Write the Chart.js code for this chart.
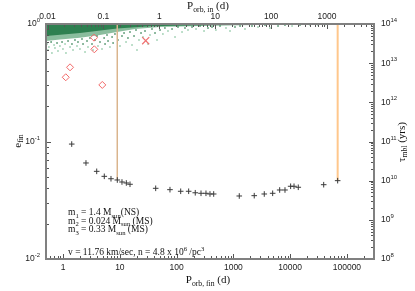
<!DOCTYPE html>
<html>
<head>
<meta charset="utf-8">
<script src="https://cdn.jsdelivr.net/npm/chart.js@4/dist/chart.umd.min.js"></script>
<style>
  html, body { margin:0; padding:0; background:#fff; }
  canvas { display:block; }
</style>
</head>
<body>
<canvas id="chart" width="415" height="291"></canvas>
<script>
// final orbital period (d) vs merger time (yrs) -- plus markers
const porbFin = [1.42, 2.53, 3.91, 5.32, 6.98, 9.02, 10.9, 13.0, 15.1, 42.8, 76.4, 118, 163, 213, 269, 329, 387, 450,
  1270, 2330, 3500, 4920, 6540, 8110, 10200, 11700, 13900, 39000, 68700];
const tauMbl = [8.6e10, 2.83e10, 1.73e10, 1.29e10, 1.12e10, 1.04e10, 9.25e9, 8.73e9, 8.09e9, 6.38e9, 5.89e9, 5.36e9, 5.36e9, 4.91e9,
  4.76e9, 4.76e9, 4.57e9, 4.57e9, 4.06e9, 4.14e9, 4.57e9, 4.76e9, 5.78e9, 5.78e9, 7.19e9, 7.19e9, 6.78e9, 7.89e9, 1.0e10];

// vertical marker lines (Porb_fin, from tau top down to tau end)
const markFin = [9.02, 68700];
const markTauTop = [1e14, 1e14];
const markTauEnd = [1.04e10, 1.0e10];

// dense green cloud, lower edges (Porb_in, e); cloud reaches e = 1
const coreIn = [0.0094, 0.0381, 0.175, 0.682, 5.35, 42, 329];
const coreE = [0.79, 0.84, 0.915, 0.955, 0.978, 0.988, 0.994];
const outerIn = [0.0094, 0.0167, 0.0381, 0.0869, 0.175, 0.367, 1.03, 5.35, 27.8, 218, 1130];
const outerE = [0.715, 0.737, 0.765, 0.806, 0.855, 0.907, 0.943, 0.961, 0.975, 0.988, 0.994];

// scattered green points (Porb_in, e)
const darkIn = [0.0116, 0.0148, 0.0182, 0.0233, 0.0274, 0.031, 0.0351, 0.0414, 0.0432, 0.0509, 0.0575, 0.0625, 0.0708, 0.0769,
  0.0869, 0.103, 0.107, 0.116, 0.121, 0.143, 0.149, 0.161, 0.182, 0.215, 0.234, 0.275, 0.299, 0.353, 0.383, 0.471, 0.555,
  0.740, 0.838, 1.03, 1.26, 1.69, 2.16, 2.88, 3.85, 5.35, 7.43, 8.77, 12.2, 22.6, 27.8, 45.5, 77.8, 133, 177, 329];
const darkE = [0.703, 0.689, 0.703, 0.717, 0.676, 0.731, 0.703, 0.745, 0.676, 0.717, 0.760, 0.676, 0.731, 0.790,
  0.703, 0.760, 0.676, 0.806, 0.717, 0.775, 0.689, 0.822, 0.731, 0.790, 0.838, 0.760, 0.855, 0.790, 0.889, 0.838, 0.872,
  0.907, 0.838, 0.889, 0.925, 0.907, 0.943, 0.925, 0.943, 0.961, 0.925, 0.943, 0.961, 0.943, 0.961, 0.961, 0.980, 0.961, 0.980, 0.980];
const lightIn = [0.0098, 0.0102, 0.0106, 0.0120, 0.0131, 0.0136, 0.0154, 0.0167, 0.0189, 0.0206, 0.0214, 0.0253, 0.0286, 0.0337,
  0.0381, 0.0469, 0.053, 0.0652, 0.080, 0.0944, 0.131, 0.198, 0.254, 0.325, 0.399, 0.433, 0.511, 0.628, 0.682, 0.910,
  1.16, 1.43, 1.91, 2.55, 3.26, 4.54, 6.31, 10.3, 15.6, 18.4, 34.1, 58.3, 95.5, 237, 497, 690, 920];
const lightE = [0.676, 0.601, 0.637, 0.567, 0.663, 0.625, 0.589, 0.650, 0.613, 0.676, 0.567, 0.637, 0.601, 0.650,
  0.613, 0.578, 0.637, 0.601, 0.650, 0.613, 0.637, 0.650, 0.703, 0.663, 0.601, 0.731, 0.775, 0.676, 0.806, 0.731,
  0.822, 0.872, 0.775, 0.855, 0.889, 0.907, 0.872, 0.889, 0.925, 0.872, 0.907, 0.943, 0.925, 0.961, 0.980, 0.980, 0.990];

// red diamonds and cross (Porb_in, e)
const diamondIn = [0.0679, 0.0688, 0.0253, 0.0212, 0.0955];
const diamondE = [0.765, 0.609, 0.428, 0.352, 0.303];
const crossIn = [0.571];
const crossE = [0.721];

// axes
const bottomTicks = [1, 10, 100, 1000, 10000, 100000];
const bottomLabels = ['1', '10', '100', '1000', '10000', '100000'];
const topTicks = [0.01, 0.1, 1, 10, 100, 1000];
const topLabels = ['0.01', '0.1', '1', '10', '100', '1000'];
const leftTicks = [1, 0.1, 0.01];
const leftExp = ['0', '-1', '-2'];
const rightTicks = [1e8, 1e9, 1e10, 1e11, 1e12, 1e13, 1e14];
const rightExp = ['8', '9', '10', '11', '12', '13', '14'];

const SERIF = '"Liberation Serif", "Times New Roman", serif';
const SANS = '"Liberation Sans", Arial, sans-serif';

const pts = (xs, ys) => xs.map((x, i) => ({x, y: ys[i]}));

function rich(ctx, segs, x, y, size, family, align){
  let w = 0;
  const parts = segs.map(s => {
    const fs = (s.sub || s.sup) ? size * 0.7 : size;
    ctx.font = `${fs}px ${family}`;
    const pw = ctx.measureText(s.t).width;
    w += pw;
    return {s, fs, pw};
  });
  let cx = align === 'center' ? x - w / 2 : align === 'right' ? x - w : x;
  ctx.textAlign = 'left';
  for (const p of parts) {
    ctx.font = `${p.fs}px ${family}`;
    const dy = p.s.sub ? size * 0.3 : p.s.sup ? -size * 0.42 : 0;
    ctx.fillText(p.s.t, cx, y + dy);
    cx += p.pw;
  }
}

function logTicks(min, max){
  const out = [];
  for (let e = Math.floor(Math.log10(min)); e <= Math.ceil(Math.log10(max)); e++) {
    for (let m = 1; m <= 9; m++) {
      const v = m * Math.pow(10, e);
      if (v >= min * 0.999 && v <= max * 1.001) out.push({v, major: m === 1});
    }
  }
  return out;
}

const decor = {
  id: 'decor',
  afterDatasetsDraw(chart){
    const {ctx, chartArea: a, scales} = chart;
    ctx.save();
    // inward ticks
    ctx.strokeStyle = '#555';
    ctx.lineWidth = 1;
    ctx.beginPath();
    for (const t of logTicks(scales.x.min, scales.x.max)) {
      const px = Math.round(scales.x.getPixelForValue(t.v)) + 0.5, l = t.major ? 5 : 3;
      ctx.moveTo(px, a.bottom); ctx.lineTo(px, a.bottom - l);
    }
    for (const t of logTicks(scales.x2.min, scales.x2.max)) {
      const px = Math.round(scales.x2.getPixelForValue(t.v)) + 0.5, l = t.major ? 5 : 3;
      ctx.moveTo(px, a.top); ctx.lineTo(px, a.top + l);
    }
    for (const t of logTicks(scales.y.min, scales.y.max)) {
      const py = Math.round(scales.y.getPixelForValue(t.v)) + 0.5, l = t.major ? 5 : 3;
      ctx.moveTo(a.left, py); ctx.lineTo(a.left + l, py);
    }
    for (const t of logTicks(scales.y2.min, scales.y2.max)) {
      const py = Math.round(scales.y2.getPixelForValue(t.v)) + 0.5, l = t.major ? 5 : 3;
      ctx.moveTo(a.right, py); ctx.lineTo(a.right - l, py);
    }
    ctx.stroke();
    // frame
    ctx.strokeStyle = '#808080';
    ctx.lineWidth = 2;
    ctx.strokeRect(a.left, a.top, a.right - a.left, a.bottom - a.top);

    // tick labels
    ctx.fillStyle = '#222';
    ctx.textBaseline = 'alphabetic';
    bottomTicks.forEach((v, i) => rich(ctx, [{t: bottomLabels[i]}], scales.x.getPixelForValue(v), 270, 8.5, SANS, 'center'));
    topTicks.forEach((v, i) => rich(ctx, [{t: topLabels[i]}], scales.x2.getPixelForValue(v), 18.5, 8.5, SANS, 'center'));
    ctx.textBaseline = 'middle';
    leftTicks.forEach((v, i) => rich(ctx, [{t: '10'}, {t: leftExp[i], sup: true}], 40, scales.y.getPixelForValue(v), 8.5, SANS, 'right'));
    rightTicks.forEach((v, i) => rich(ctx, [{t: '10'}, {t: rightExp[i], sup: true}], 381, scales.y2.getPixelForValue(v), 8.5, SANS, 'left'));

    // axis titles
    ctx.fillStyle = '#111';
    ctx.textBaseline = 'alphabetic';
    rich(ctx, [{t: 'P'}, {t: 'orb, in', sub: true}, {t: ' (d)'}], 208, 9, 11, SERIF, 'center');
    rich(ctx, [{t: 'P'}, {t: 'orb, fin', sub: true}, {t: ' (d)'}], 208, 283, 11, SERIF, 'center');
    ctx.textBaseline = 'middle';
    ctx.save();
    ctx.translate(18, 141); ctx.rotate(-Math.PI / 2);
    rich(ctx, [{t: 'e'}, {t: 'fin', sub: true}], 0, 0, 11, SERIF, 'center');
    ctx.restore();
    ctx.save();
    ctx.translate(402, 142); ctx.rotate(-Math.PI / 2);
    rich(ctx, [{t: 'τ'}, {t: 'mbl', sub: true}, {t: ' (yrs)'}], 0, 0, 11, SERIF, 'center');
    ctx.restore();

    // annotation
    ctx.textBaseline = 'alphabetic';
    rich(ctx, [{t: 'm'}, {t: '1', sub: true}, {t: ' = 1.4 M'}, {t: 'sun', sub: true}, {t: '(NS)'}], 68, 215, 9.5, SERIF, 'left');
    rich(ctx, [{t: 'm'}, {t: '2', sub: true}, {t: ' = 0.024 M'}, {t: 'sun', sub: true}, {t: ' (MS)'}], 68, 223.5, 9.5, SERIF, 'left');
    rich(ctx, [{t: 'm'}, {t: '3', sub: true}, {t: ' = 0.33 M'}, {t: 'sun', sub: true}, {t: ' (MS)'}], 68, 232, 9.5, SERIF, 'left');
    rich(ctx, [{t: 'v = 11.76 km/sec, n = 4.8 x 10'}, {t: '6', sup: true}, {t: ' /pc'}, {t: '3', sup: true}], 68, 255, 9.5, SERIF, 'left');
    ctx.restore();
  }
};

const datasets = [
  {type: 'scatter', label: 'tau', data: pts(porbFin, tauMbl), xAxisID: 'x', yAxisID: 'y2',
    pointStyle: 'cross', pointRadius: 2.8, borderColor: '#3a3a3a', borderWidth: 1, order: 0},
  {type: 'scatter', label: 'diamonds', data: pts(diamondIn, diamondE), xAxisID: 'x2', yAxisID: 'y',
    pointStyle: 'rectRot', pointRadius: 3.5, borderColor: '#f26868', backgroundColor: 'rgba(0,0,0,0)', borderWidth: 1, order: 0},
  {type: 'scatter', label: 'cross', data: pts(crossIn, crossE), xAxisID: 'x2', yAxisID: 'y',
    pointStyle: 'crossRot', pointRadius: 5, borderColor: '#f07070', borderWidth: 1.2, order: 0},
  {type: 'line', label: 'markA', data: [{x: markFin[0], y: markTauTop[0]}, {x: markFin[0], y: markTauEnd[0]}], xAxisID: 'x', yAxisID: 'y2',
    borderColor: '#d9b48c', borderWidth: 1, pointRadius: 0, fill: false, order: 1},
  {type: 'line', label: 'markB', data: [{x: markFin[1], y: markTauTop[1]}, {x: markFin[1], y: markTauEnd[1]}], xAxisID: 'x', yAxisID: 'y2',
    borderColor: '#ffc78c', borderWidth: 2, pointRadius: 0, fill: false, order: 1},
  {type: 'scatter', label: 'dark', data: pts(darkIn, darkE), xAxisID: 'x2', yAxisID: 'y',
    pointStyle: 'rect', pointRadius: 1, borderWidth: 0, backgroundColor: '#2f7f4f', order: 2},
  {type: 'scatter', label: 'light', data: pts(lightIn, lightE), xAxisID: 'x2', yAxisID: 'y',
    pointStyle: 'rect', pointRadius: 1, borderWidth: 0, backgroundColor: '#86c49e', order: 2},
  {type: 'line', label: 'core', data: pts(coreIn, coreE), xAxisID: 'x2', yAxisID: 'y',
    borderWidth: 0, pointRadius: 0, fill: 'end', backgroundColor: '#2e8050', order: 3},
  {type: 'line', label: 'outer', data: pts(outerIn, outerE), xAxisID: 'x2', yAxisID: 'y',
    borderWidth: 0, pointRadius: 0, fill: 'end', backgroundColor: 'rgba(60,145,92,0.6)', order: 4}
];

const hidden = (pos, min, max) => ({type: 'logarithmic', position: pos, min, max, display: false});

new Chart(document.getElementById('chart'), {
  type: 'scatter',
  data: {datasets},
  options: {
    responsive: false,
    animation: false,
    devicePixelRatio: 1,
    layout: {padding: {left: 46, top: 24, right: 41, bottom: 32}},
    plugins: {legend: {display: false}, tooltip: {enabled: false}},
    scales: {
      x: hidden('bottom', 0.5, 3e5),
      x2: hidden('top', 0.0094, 6930),
      y: hidden('left', 0.01, 1),
      y2: hidden('right', 1e8, 1e14)
    }
  },
  plugins: [decor]
});
</script>
</body>
</html>
